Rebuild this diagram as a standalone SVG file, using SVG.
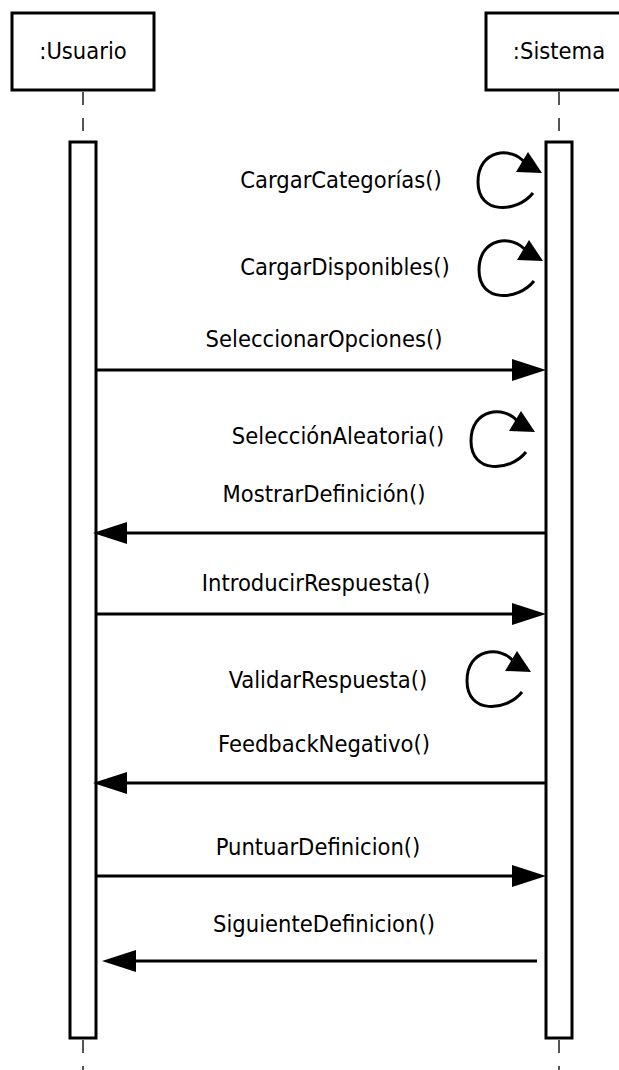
<svg xmlns="http://www.w3.org/2000/svg" xmlns:xlink="http://www.w3.org/1999/xlink" width="619" height="1070" viewBox="0 0 619 1070">
<style>
.box{fill:#fff;stroke:#000;stroke-width:3}
.life{stroke:#555;stroke-width:2;stroke-dasharray:13 13;fill:none}
.msg{stroke:#000;stroke-width:3;fill:none}
.lbl{font-family:'DejaVu Sans Condensed','DejaVu Sans',sans-serif;font-stretch:condensed;font-size:23.5px;fill:#000;text-anchor:middle}
.head{fill:#000;stroke:none}
</style>
<defs>
<g id="selfloop">
<path d="M -9,20 C -25,40 -64,42 -64,9 C -64,-24 -30,-27 -17,-10" fill="none" stroke="#000" stroke-width="3"/>
<polygon points="0,0 -14,-21 -26,-1" class="head"/>
</g>
<polygon id="headR" points="0,0 -34,-11 -34,11" class="head"/>
<polygon id="headL" points="0,0 34,-11 34,11" class="head"/>
</defs>
<g id="usuario">
<rect class="box" x="12" y="13" width="142" height="77"/>
<text class="lbl" x="83" y="59">:Usuario</text>
<line class="life" x1="83" y1="92" x2="83" y2="142"/>
<rect class="box" x="70" y="142" width="26" height="896"/>
<line class="life" x1="83" y1="1040" x2="83" y2="1070"/>
</g>
<g id="sistema">
<rect class="box" x="486" y="13" width="146" height="77"/>
<text class="lbl" x="559" y="59">:Sistema</text>
<line class="life" x1="559" y1="92" x2="559" y2="142"/>
<rect class="box" x="546" y="142" width="26" height="896"/>
<line class="life" x1="559" y1="1040" x2="559" y2="1070"/>
</g>
<g id="connectors">
<use xlink:href="#selfloop" href="#selfloop" x="542" y="173"/>
<use xlink:href="#selfloop" href="#selfloop" x="543" y="261"/>
<line class="msg" x1="96" y1="370" x2="520" y2="370"/>
<use xlink:href="#headR" href="#headR" x="546" y="370"/>
<use xlink:href="#selfloop" href="#selfloop" x="535" y="432"/>
<line class="msg" x1="546" y1="533" x2="120" y2="533"/>
<use xlink:href="#headL" href="#headL" x="93" y="533"/>
<line class="msg" x1="96" y1="614" x2="520" y2="614"/>
<use xlink:href="#headR" href="#headR" x="546" y="614"/>
<use xlink:href="#selfloop" href="#selfloop" x="531" y="672"/>
<line class="msg" x1="546" y1="783" x2="120" y2="783"/>
<use xlink:href="#headL" href="#headL" x="93" y="783"/>
<line class="msg" x1="96" y1="876" x2="520" y2="876"/>
<use xlink:href="#headR" href="#headR" x="546" y="876"/>
<line class="msg" x1="537" y1="961" x2="128" y2="961"/>
<use xlink:href="#headL" href="#headL" x="102" y="961"/>
</g>
<g id="labels">
<text class="lbl" x="341" y="188">CargarCategorías()</text>
<text class="lbl" x="345" y="275">CargarDisponibles()</text>
<text class="lbl" x="324" y="347">SeleccionarOpciones()</text>
<text class="lbl" x="338" y="444">SelecciónAleatoria()</text>
<text class="lbl" x="324" y="502">MostrarDefinición()</text>
<text class="lbl" x="316" y="591">IntroducirRespuesta()</text>
<text class="lbl" x="328" y="688">ValidarRespuesta()</text>
<text class="lbl" x="324" y="752">FeedbackNegativo()</text>
<text class="lbl" x="318" y="855">PuntuarDefinicion()</text>
<text class="lbl" x="324" y="932">SiguienteDefinicion()</text>
</g>
</svg>
